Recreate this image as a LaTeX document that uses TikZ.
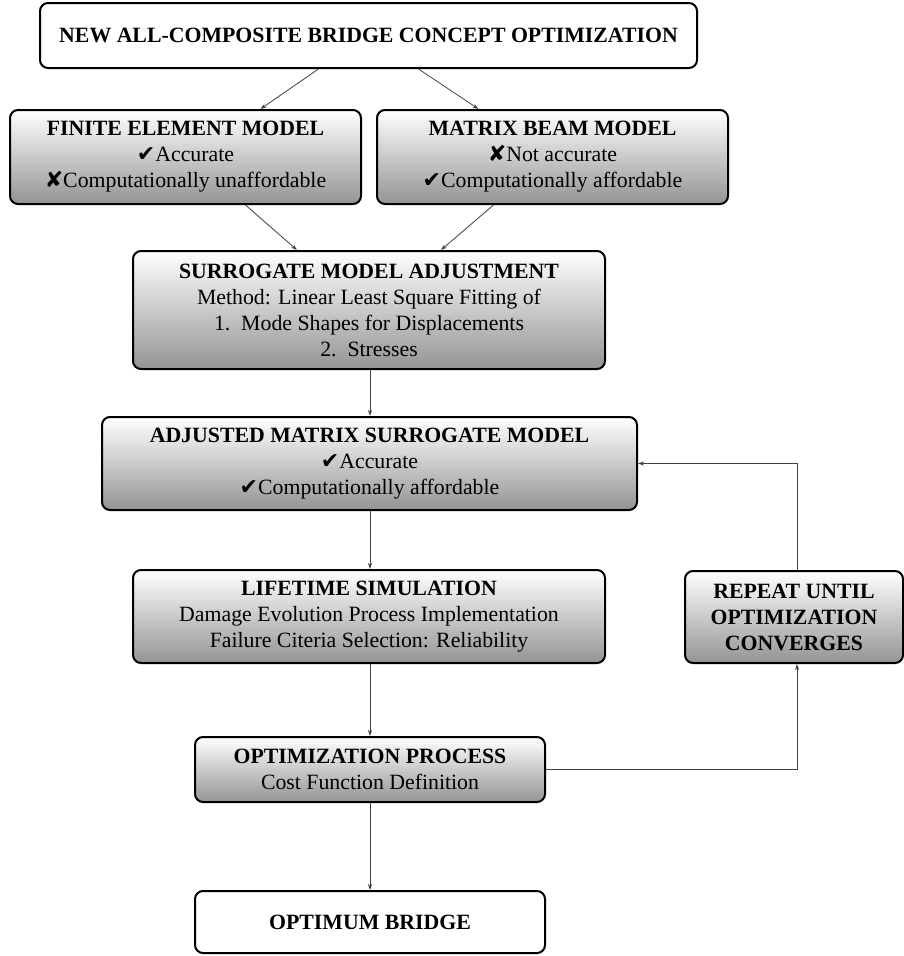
\documentclass[tikz,border=0pt]{standalone}
\usepackage{fontspec}
\setmainfont{Liberation Serif}
\newfontfamily\symfont{DejaVu Sans}
\usetikzlibrary{calc,arrows.meta}
\newcommand{\yes}{{\symfont\fontsize{22}{26}\selectfont ✔}}
\newcommand{\no}{{\symfont\fontsize{22}{26}\selectfont ✘}}
\begin{document}
\begin{tikzpicture}[x=1pt,y=-1pt,
  box/.style={draw=black, line width=2pt, rounded corners=8pt, align=center,
    inner sep=0pt, font=\fontsize{21.8}{26}\selectfont},
  shadebox/.style={box, top color=white, bottom color=black!42},
  plainbox/.style={box, fill=white},
  conn/.style={draw=black!75, line width=0.8pt, -{Stealth[length=6pt,width=4pt]}}]
\useasboundingbox (0,0) rectangle (904,956);

\node[plainbox, minimum width=657pt, minimum height=65pt] (top) at (368.5,35.5)
  {\textbf{NEW ALL-COMPOSITE BRIDGE CONCEPT OPTIMIZATION}};
\node[shadebox, minimum width=351pt, minimum height=94pt] (fem) at (185.5,157)
  {\textbf{FINITE ELEMENT MODEL}\\\yes Accurate\\\no Computationally unaffordable};
\node[shadebox, minimum width=351pt, minimum height=94pt] (mbm) at (552.5,157)
  {\textbf{MATRIX BEAM MODEL}\\\no Not accurate\\\yes Computationally affordable};
\node[shadebox, minimum width=472pt, minimum height=118pt] (sur) at (369,310)
  {\textbf{SURROGATE MODEL ADJUSTMENT}\\Method: Linear Least Square Fitting of\\1.\ \ Mode Shapes for Displacements\\2.\ \ Stresses};
\node[shadebox, minimum width=535pt, minimum height=93pt] (adj) at (369.5,463.5)
  {\textbf{ADJUSTED MATRIX SURROGATE MODEL}\\\yes Accurate\\\yes Computationally affordable};
\node[shadebox, minimum width=472pt, minimum height=93pt] (life) at (369,616.5)
  {\textbf{LIFETIME SIMULATION}\\Damage Evolution Process Implementation\\Failure Citeria Selection: Reliability};
\node[shadebox, minimum width=218pt, minimum height=92pt] (rep) at (794,617)
  {\textbf{REPEAT UNTIL}\\\textbf{OPTIMIZATION}\\\textbf{CONVERGES}};
\node[shadebox, minimum width=350pt, minimum height=65pt] (opt) at (370,769.5)
  {\textbf{OPTIMIZATION PROCESS}\\Cost Function Definition};
\node[plainbox, minimum width=350pt, minimum height=62pt] (best) at (370,922)
  {\textbf{OPTIMUM BRIDGE}};

% branching from the concept to the two models
\draw[conn] ($(top.south)+(-50,0)$) -- ($(fem.north)+(75,0)$);
\draw[conn] ($(top.south)+(50,0)$) -- ($(mbm.north)+(-74,0)$);
\draw[conn] ($(fem.south)+(60,0)$) -- ($(sur.north)+(-72,0)$);
\draw[conn] ($(mbm.south)+(-59,0)$) -- ($(sur.north)+(72,0)$);

% main chain
\draw[conn] ($(sur.south)+(1,0)$) -- ($(adj.north)+(0.5,0)$);
\draw[conn] ($(adj.south)+(0.5,0)$) -- ($(life.north)+(1,0)$);
\draw[conn] ($(life.south)+(1,0)$) -- (opt.north);
\draw[conn] (opt.south) -- (best.north);

% optimization loop
\draw[conn] (opt.east) -| ($(rep.south)+(3,0)$);
\draw[conn] ($(rep.north)+(3,0)$) |- (adj.east);
\end{tikzpicture}
\end{document}
